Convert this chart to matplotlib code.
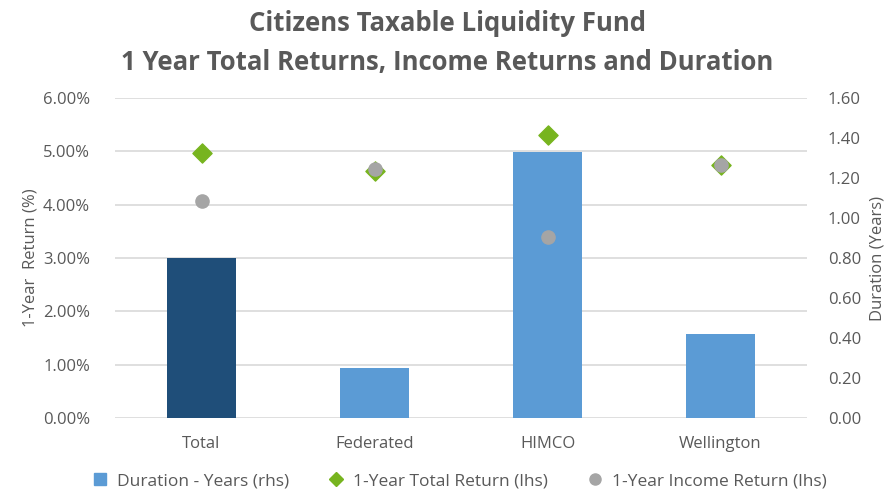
import matplotlib
matplotlib.use("Agg")
import matplotlib.pyplot as plt
from matplotlib.ticker import FuncFormatter
from matplotlib.lines import Line2D

plt.rcParams['font.family'] = ['Open Sans', 'DejaVu Sans']

managers = ["Total", "Federated", "HIMCO", "Wellington"]
duration = [0.80, 0.252, 1.33, 0.42]          # years (rhs)
total_return = [4.97, 4.64, 5.31, 4.74]       # % (lhs)
income_return = [4.07, 4.67, 3.40, 4.74]      # % (lhs)

grey = "#595959"
bar_colors = ["#1F4E79", "#5B9BD5", "#5B9BD5", "#5B9BD5"]

fig = plt.figure(figsize=(8.95, 4.92), dpi=100)
ax = fig.add_axes([0.1285, 0.1504, 0.7732, 0.6504])
x = list(range(len(managers)))

# left axis: grid + ticks
ax.set_ylim(0, 6)
ax.set_yticks([0, 1, 2, 3, 4, 5, 6])
ax.yaxis.set_major_formatter(FuncFormatter(lambda v, p: "%.2f%%" % v))
ax.grid(axis="y", color="#D9D9D9", linewidth=1.2)
ax.set_axisbelow(True)
ax.set_xlim(-0.5, 3.5)
ax.set_xticks(x)
ax.set_xticklabels(managers)
ax.set_ylabel("1-Year  Return (%)", color=grey, fontsize=12, labelpad=3)

# right axis: bars
ax2 = ax.twinx()
ax2.bar(x, duration, width=0.4, color=bar_colors, zorder=2)
ax2.set_ylim(0, 1.6)
ax2.set_yticks([0.2 * i for i in range(9)])
ax2.yaxis.set_major_formatter(FuncFormatter(lambda v, p: "%.2f" % v))
ax2.set_ylabel("Duration (Years)", color=grey, fontsize=12, labelpad=6)

# points on top, in left-axis units
ax3 = ax.twinx()
ax3.set_ylim(ax.get_ylim())
ax3.scatter(x, total_return, marker="D", s=95, color="#77B41F", zorder=3)
ax3.scatter(x, income_return, marker="o", s=90, color="#A5A5A5", zorder=4)
ax3.set_yticks([])

for a in (ax, ax2, ax3):
    for s in a.spines.values():
        s.set_visible(False)
    a.tick_params(length=0, colors=grey, labelsize=12)
ax.tick_params(axis="y", pad=18)
ax.tick_params(axis="x", pad=13)
ax2.tick_params(axis="y", pad=15)

fig.suptitle("Citizens Taxable Liquidity Fund\n1 Year Total Returns, Income Returns and Duration",
             y=0.98, fontsize=18.5, fontweight="bold", color=grey, linespacing=1.6)

handles = [
    Line2D([], [], marker="s", linestyle="none", color="#5B9BD5", markersize=8),
    Line2D([], [], marker="D", linestyle="none", color="#77B41F", markersize=7),
    Line2D([], [], marker="o", linestyle="none", color="#A5A5A5", markersize=8),
]
labels = ["Duration - Years (rhs)", "1-Year Total Return (lhs)", "1-Year Income Return (lhs)"]
fig.legend(handles, labels, loc="center", bbox_to_anchor=(0.508, 0.022), ncol=3, frameon=False,
           fontsize=12.5, labelcolor=grey, handletextpad=0.0, columnspacing=1.7)

fig.savefig("out.png", dpi=100)
